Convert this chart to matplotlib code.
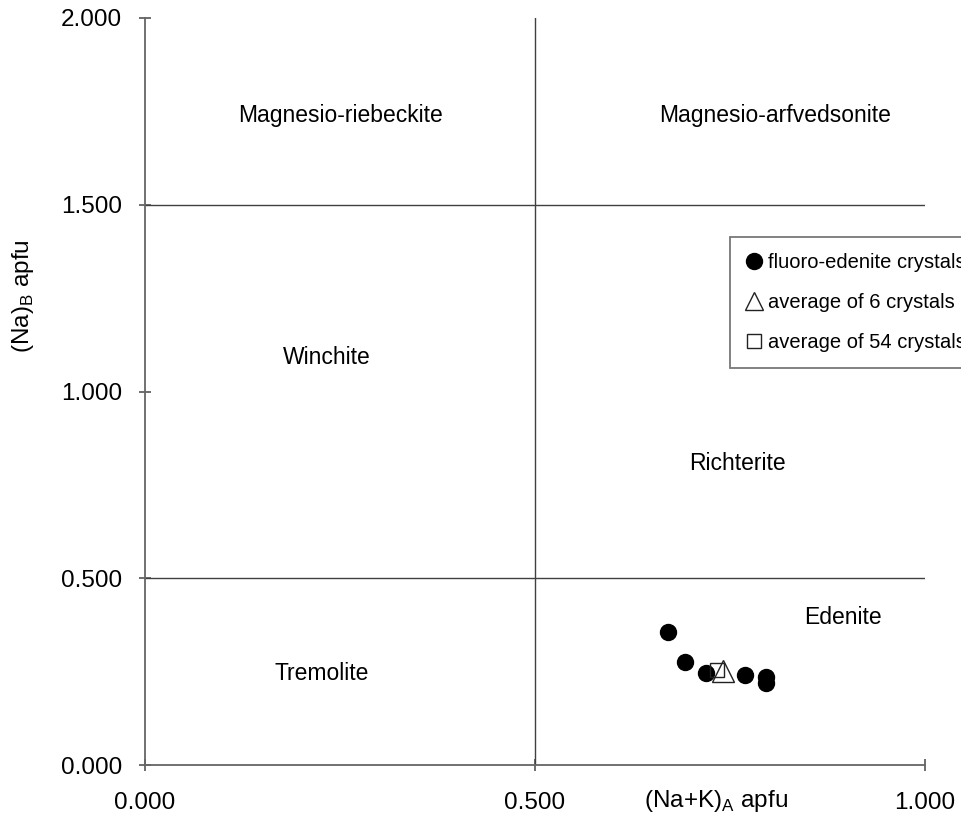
import matplotlib
matplotlib.use("Agg")
import matplotlib.pyplot as plt
from matplotlib.lines import Line2D

plt.rcParams['font.family'] = ['Liberation Sans', 'DejaVu Sans']

# Data
crystal_x = [0.671, 0.692, 0.719, 0.769, 0.796, 0.796]
crystal_y = [0.357, 0.277, 0.247, 0.241, 0.235, 0.220]
avg6_x = [0.741]
avg6_y = [0.252]
avg54_x = [0.733]
avg54_y = [0.254]

regions = ["Magnesio-riebeckite", "Magnesio-arfvedsonite", "Winchite",
           "Richterite", "Edenite", "Tremolite"]
region_x = [0.250, 0.808, 0.233, 0.759, 0.895, 0.227]
region_y = [1.738, 1.738, 1.090, 0.806, 0.396, 0.246]

xticks = [0.0, 0.5, 1.0]
xticklabels = ["0.000", "0.500", "1.000"]
yticks = [0.0, 0.5, 1.0, 1.5, 2.0]
yticklabels = ["0.000", "0.500", "1.000", "1.500", "2.000"]

W, H = 961, 819
fig = plt.figure(figsize=(W / 100, H / 100), dpi=100)
ax = fig.add_axes([145 / W, (H - 765) / H, 780 / W, (765 - 18) / H])

ax.set_xlim(0, 1)
ax.set_ylim(0, 2)
ax.set_xticks(xticks)
ax.set_xticklabels(xticklabels)
ax.set_yticks(yticks)
ax.set_yticklabels(yticklabels)
ax.tick_params(direction='inout', length=9, width=1.2, labelsize=17.5, colors='#555555',
               labelcolor='black', pad=12)
ax.tick_params(axis='x', pad=15)
for s in ['top', 'right']:
    ax.spines[s].set_visible(False)
for s in ['left', 'bottom']:
    ax.spines[s].set_color('#666666')
    ax.spines[s].set_linewidth(1.3)

# field boundaries
ax.axhline(0.5, color='#404040', lw=1)
ax.axhline(1.5, color='#404040', lw=1)
ax.axvline(0.5, color='#404040', lw=1)

for t, x, y in zip(regions, region_x, region_y):
    ax.text(x, y, t, ha='center', va='center', fontsize=16.5)

ax.plot(crystal_x, crystal_y, 'o', color='black', markersize=11.5, clip_on=False)
ax.plot(avg6_x, avg6_y, '^', mfc='none', mec='#222222', markersize=16, mew=1)
ax.plot(avg54_x, avg54_y, 's', mfc='none', mec='#222222', markersize=9.4, mew=1)

ax.set_xlabel("(Na+K)$_\\mathregular{A}$ apfu", fontsize=17.5, va='top')
ax.xaxis.set_label_coords(0.732, -0.031)
ax.set_ylabel("(Na)$_\\mathregular{B}$ apfu", fontsize=17.5)
ax.yaxis.set_label_coords(-0.14, 0.628)

handles = [
    Line2D([], [], marker='o', ls='none', color='black', markersize=11.5),
    Line2D([], [], marker='^', ls='none', mfc='white', mec='#222222', markersize=12.5),
    Line2D([], [], marker='s', ls='none', mfc='white', mec='#222222', markersize=9.5),
]
labels = ["fluoro-edenite crystals", "average of 6 crystals", "average of 54 crystals"]
leg = fig.legend(handles, labels, loc='upper left', bbox_to_anchor=(730 / W, 1 - 237 / H),
                 borderaxespad=0, fontsize=14.5, frameon=True, fancybox=False,
                 edgecolor='#555555', handlelength=0.8, handletextpad=0.29,
                 borderpad=0.78, labelspacing=1.06)
leg.get_frame().set_linewidth(1.3)

fig.savefig("out.png", dpi=100)
